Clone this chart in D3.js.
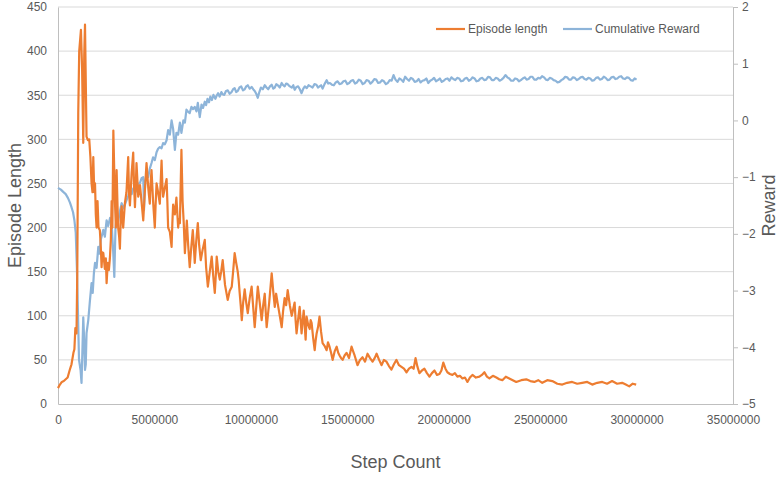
<!DOCTYPE html>
<html>
<head>
<meta charset="utf-8">
<script src="https://cdn.jsdelivr.net/npm/d3@7"></script>
<style>
  body { margin: 0; background: #fff; }
  text { font-family: "Liberation Sans", Arial, sans-serif; }
</style>
</head>
<body>
<div class="chart"></div>
<script>
// step count in millions, value
const episodeLength = [
  [0.00,18],[0.10,22],[0.20,25],[0.30,26],[0.40,28],[0.50,30],[0.60,38],[0.70,45],[0.80,58],[0.85,62],
  [0.90,86],[0.96,80],[1.00,150],[1.05,330],[1.10,400],[1.19,424],[1.25,380],[1.31,296],[1.36,395],[1.40,430],
  [1.48,303],[1.55,299],[1.62,300],[1.68,280],[1.74,250],[1.79,240],[1.83,280],[1.88,240],[1.92,250],[1.96,215],
  [2.00,200],[2.05,230],[2.10,200],[2.17,197],[2.22,178],[2.26,155],[2.30,172],[2.35,171],[2.40,160],[2.43,153],
  [2.48,165],[2.52,137],[2.58,160],[2.64,152],[2.69,165],[2.74,186],[2.78,230],[2.82,200],[2.87,310],[2.95,231],
  [3.00,200],[3.04,265],[3.08,230],[3.12,200],[3.17,190],[3.21,176],[3.26,215],[3.30,224],[3.38,200],[3.47,228],
  [3.55,240],[3.64,280],[3.68,240],[3.73,225],[3.82,262],[3.90,285],[3.94,250],[3.99,223],[4.03,245],[4.07,273],
  [4.16,235],[4.25,248],[4.33,230],[4.42,208],[4.50,240],[4.59,273],[4.68,245],[4.76,227],[4.80,250],[4.85,265],
  [4.93,230],[5.02,200],[5.06,225],[5.11,250],[5.19,240],[5.28,227],[5.32,250],[5.37,276],[5.41,250],[5.45,235],
  [5.54,245],[5.63,255],[5.67,230],[5.71,200],[5.80,195],[5.89,178],[5.93,205],[5.97,226],[6.06,215],[6.14,234],
  [6.19,215],[6.23,200],[6.28,210],[6.32,205],[6.40,288],[6.46,230],[6.52,205],[6.58,171],[6.63,190],[6.68,208],
  [6.75,180],[6.83,155],[6.90,175],[6.99,197],[7.04,180],[7.09,160],[7.17,185],[7.25,205],[7.32,180],[7.40,163],
  [7.50,175],[7.61,186],[7.68,155],[7.77,133],[7.87,150],[7.97,167],[8.05,145],[8.13,126],[8.18,145],[8.23,167],
  [8.31,150],[8.39,141],[8.46,150],[8.54,163],[8.66,135],[8.80,118],[8.90,128],[9.01,133],[9.08,150],[9.16,171],
  [9.24,160],[9.32,150],[9.37,140],[9.42,126],[9.48,110],[9.53,95],[9.60,115],[9.68,130],[9.76,115],[9.84,103],
  [9.94,120],[10.04,133],[10.12,110],[10.20,87],[10.28,110],[10.36,133],[10.46,115],[10.56,95],[10.64,112],[10.72,125],
  [10.77,105],[10.82,87],[10.95,115],[11.08,148],[11.16,128],[11.24,110],[11.31,125],[11.39,114],[11.50,100],[11.60,87],
  [11.67,105],[11.75,120],[11.83,112],[11.91,129],[12.02,112],[12.12,100],[12.20,108],[12.27,115],[12.32,95],[12.37,80],
  [12.45,96],[12.53,110],[12.58,95],[12.63,80],[12.69,95],[12.74,106],[12.79,90],[12.84,73],[12.89,99],[12.97,90],
  [13.05,85],[13.10,95],[13.15,92],[13.23,75],[13.31,61],[13.36,72],[13.41,80],[13.49,88],[13.56,99],[13.64,82],
  [13.72,69],[13.82,66],[13.93,61],[14.00,70],[14.08,65],[14.16,58],[14.24,50],[14.35,60],[14.45,65],[14.53,58],
  [14.60,55],[14.68,52],[14.76,50],[14.86,55],[14.96,58],[15.09,52],[15.22,65],[15.30,60],[15.38,55],[15.45,50],
  [15.53,44],[15.66,50],[15.79,53],[15.92,48],[16.05,57],[16.18,52],[16.31,48],[16.42,52],[16.52,57],[16.65,50],
  [16.78,44],[16.90,50],[17.03,48],[17.16,43],[17.29,39],[17.42,45],[17.55,50],[17.68,44],[17.81,42],[17.94,40],
  [18.07,36],[18.20,40],[18.33,42],[18.44,40],[18.54,52],[18.64,42],[18.74,35],[18.87,38],[19.00,40],[19.13,35],
  [19.26,31],[19.39,35],[19.52,38],[19.65,33],[19.78,34],[19.88,38],[19.98,47],[20.09,40],[20.19,36],[20.32,34],
  [20.45,33],[20.58,35],[20.71,31],[20.84,32],[20.97,29],[21.10,30],[21.23,25],[21.36,30],[21.49,33],[21.67,30],
  [21.85,31],[21.98,33],[22.11,36],[22.24,31],[22.37,29],[22.55,32],[22.73,30],[22.88,28],[23.04,27],[23.22,31],
  [23.40,29],[23.58,27],[23.76,25],[24.02,27],[24.28,28],[24.49,26],[24.70,25],[24.90,27],[25.11,24],[25.37,27],
  [25.63,26],[25.89,23],[26.15,22],[26.40,24],[26.66,25],[26.92,23],[27.18,24],[27.44,25],[27.70,22],[27.96,24],
  [28.22,25],[28.47,23],[28.73,26],[28.99,23],[29.25,24],[29.44,22],[29.62,20],[29.80,23],[29.98,22]
];

const cumulativeReward = [
  [0.00,-1.19],[0.15,-1.22],[0.27,-1.26],[0.40,-1.30],[0.52,-1.37],[0.62,-1.45],[0.70,-1.53],[0.78,-1.62],[0.85,-1.76],[0.92,-1.98],
  [0.98,-2.60],[1.02,-3.17],[1.09,-4.22],[1.17,-4.40],[1.22,-4.63],[1.27,-4.00],[1.31,-3.47],[1.36,-3.90],[1.40,-4.40],[1.44,-4.30],
  [1.48,-3.75],[1.57,-3.52],[1.65,-3.20],[1.74,-2.87],[1.80,-3.04],[1.86,-2.70],[1.92,-2.51],[2.00,-2.60],[2.09,-2.23],[2.15,-2.35],
  [2.22,-2.10],[2.35,-1.93],[2.43,-2.05],[2.52,-1.76],[2.60,-1.86],[2.70,-1.72],[2.78,-1.81],[2.86,-2.30],[2.92,-2.76],[2.98,-1.90],
  [3.04,-1.70],[3.12,-1.78],[3.21,-1.60],[3.30,-1.46],[3.40,-1.55],[3.56,-1.40],[3.64,-1.33],[3.73,-1.23],[3.82,-1.30],[3.90,-1.20],
  [3.99,-1.17],[4.07,-1.25],[4.16,-1.12],[4.25,-1.10],[4.33,-1.02],[4.42,-1.00],[4.46,-1.58],[4.52,-1.10],[4.59,-0.95],[4.68,-1.00],
  [4.76,-0.85],[4.85,-0.75],[4.93,-0.65],[5.02,-0.70],[5.11,-0.56],[5.19,-0.50],[5.28,-0.47],[5.37,-0.49],[5.45,-0.40],[5.54,-0.42],
  [5.63,-0.35],[5.71,-0.17],[5.80,-0.25],[5.89,0.00],[5.97,-0.15],[6.06,-0.52],[6.14,-0.22],[6.23,-0.25],[6.32,-0.04],[6.40,-0.22],
  [6.50,0.00],[6.58,-0.04],[6.66,0.19],[6.75,0.15],[6.83,0.13],[6.92,0.24],[7.00,0.20],[7.09,0.24],[7.18,0.16],[7.25,0.31],
  [7.35,0.06],[7.44,0.28],[7.52,0.22],[7.61,0.33],[7.68,0.27],[7.75,0.38],[7.83,0.32],[7.90,0.42],[7.98,0.36],[8.06,0.45],
  [8.16,0.38],[8.23,0.44],[8.30,0.48],[8.38,0.42],[8.47,0.50],[8.54,0.46],[8.62,0.45],[8.71,0.52],[8.80,0.53],[8.90,0.47],
  [9.00,0.50],[9.08,0.55],[9.16,0.57],[9.24,0.50],[9.32,0.52],[9.41,0.58],[9.50,0.60],[9.59,0.53],[9.68,0.55],[9.76,0.60],
  [9.84,0.62],[9.94,0.56],[10.04,0.59],[10.12,0.55],[10.20,0.52],[10.28,0.47],[10.36,0.40],[10.44,0.50],[10.52,0.58],[10.62,0.55],
  [10.72,0.62],[10.81,0.58],[10.90,0.55],[10.99,0.60],[11.08,0.63],[11.16,0.56],[11.24,0.58],[11.32,0.64],[11.40,0.62],[11.50,0.58],
  [11.60,0.66],[11.68,0.62],[11.75,0.60],[11.83,0.65],[11.91,0.64],[12.02,0.60],[12.12,0.58],[12.20,0.62],[12.27,0.54],[12.36,0.59],
  [12.45,0.60],[12.54,0.55],[12.63,0.48],[12.72,0.56],[12.80,0.60],[12.90,0.57],[12.99,0.62],[13.10,0.60],[13.20,0.58],[13.30,0.64],
  [13.40,0.63],[13.48,0.58],[13.56,0.60],[13.64,0.62],[13.72,0.56],[13.82,0.64],[13.93,0.71],[14.01,0.65],[14.10,0.66],[14.20,0.63],
  [14.30,0.62],[14.40,0.67],[14.50,0.69],[14.60,0.64],[14.70,0.65],[14.80,0.69],[14.90,0.70],[15.00,0.64],[15.10,0.66],[15.20,0.70],
  [15.30,0.71],[15.40,0.65],[15.50,0.67],[15.60,0.72],[15.70,0.70],[15.80,0.64],[15.90,0.66],[16.00,0.71],[16.10,0.70],[16.20,0.65],
  [16.30,0.68],[16.40,0.73],[16.50,0.72],[16.60,0.66],[16.70,0.67],[16.80,0.71],[16.90,0.69],[17.00,0.64],[17.10,0.66],[17.20,0.71],
  [17.30,0.70],[17.40,0.80],[17.50,0.72],[17.60,0.68],[17.70,0.74],[17.80,0.72],[17.90,0.68],[18.00,0.77],[18.10,0.73],[18.20,0.70],
  [18.30,0.75],[18.40,0.73],[18.50,0.68],[18.60,0.69],[18.70,0.73],[18.80,0.67],[18.90,0.70],[19.00,0.71],[19.10,0.74],[19.20,0.66],
  [19.30,0.70],[19.40,0.72],[19.50,0.75],[19.60,0.69],[19.70,0.71],[19.80,0.74],[19.90,0.68],[20.00,0.70],[20.10,0.73],[20.20,0.74],
  [20.30,0.70],[20.40,0.76],[20.50,0.73],[20.60,0.71],[20.70,0.75],[20.80,0.74],[20.90,0.69],[21.00,0.70],[21.10,0.74],[21.20,0.75],
  [21.30,0.70],[21.40,0.72],[21.50,0.76],[21.60,0.74],[21.70,0.69],[21.80,0.70],[21.90,0.74],[22.00,0.75],[22.10,0.71],[22.20,0.72],
  [22.30,0.77],[22.40,0.76],[22.50,0.71],[22.60,0.71],[22.70,0.75],[22.80,0.74],[22.90,0.70],[23.00,0.72],[23.10,0.75],[23.20,0.80],
  [23.30,0.76],[23.40,0.74],[23.50,0.70],[23.60,0.70],[23.70,0.74],[23.80,0.73],[23.90,0.69],[24.00,0.71],[24.10,0.74],[24.20,0.76],
  [24.30,0.72],[24.40,0.73],[24.50,0.77],[24.60,0.77],[24.70,0.72],[24.80,0.72],[24.90,0.75],[25.00,0.74],[25.10,0.78],[25.20,0.76],
  [25.30,0.72],[25.40,0.71],[25.50,0.75],[25.60,0.74],[25.70,0.71],[25.80,0.70],[25.90,0.67],[26.00,0.68],[26.10,0.71],[26.20,0.73],
  [26.30,0.77],[26.40,0.76],[26.50,0.72],[26.60,0.72],[26.70,0.76],[26.80,0.75],[26.90,0.71],[27.00,0.73],[27.10,0.76],[27.20,0.77],
  [27.30,0.73],[27.40,0.72],[27.50,0.75],[27.60,0.74],[27.70,0.70],[27.80,0.71],[27.90,0.75],[28.00,0.76],[28.10,0.72],[28.20,0.73],
  [28.30,0.77],[28.40,0.75],[28.50,0.71],[28.60,0.72],[28.70,0.76],[28.80,0.77],[28.90,0.73],[29.00,0.74],[29.10,0.77],[29.20,0.78],
  [29.30,0.74],[29.40,0.73],[29.50,0.76],[29.60,0.75],[29.70,0.71],[29.80,0.70],[29.90,0.74],[30.00,0.72]
];

const xTicks = [0, 5000000, 10000000, 15000000, 20000000, 25000000, 30000000, 35000000];
const yLeftTicks = [0, 50, 100, 150, 200, 250, 300, 350, 400, 450];
const yRightTicks = [-5, -4, -3, -2, -1, 0, 1, 2];
const seriesNames = ['Episode length', 'Cumulative Reward'];
const seriesColors = ['#ed7d31', '#8db4d9'];

const width = 782;
const height = 477;
const margin = {top: 7, right: 49, bottom: 73, left: 58};

const svg = d3.select('.chart').append('svg')
  .attr('width', width)
  .attr('height', height);

const x = d3.scaleLinear().domain([0, 35000000]).range([margin.left, width - margin.right]);
const yL = d3.scaleLinear().domain([0, 450]).range([height - margin.bottom, margin.top]);
const yR = d3.scaleLinear().domain([-5, 2]).range([height - margin.bottom, margin.top]);

// gridlines
svg.append('g')
  .selectAll('line')
  .data(yLeftTicks.filter(d=>d>0))
  .enter()
  .append('line')
  .attr('x1', margin.left)
  .attr('x2', width - margin.right)
  .attr('y1', d=>yL(d))
  .attr('y2', d=>yL(d))
  .attr('stroke', '#d9d9d9')
  .attr('stroke-width', 1);

// x axis
const xAxis = svg.append('g')
  .attr('transform', `translate(0,${height - margin.bottom})`)
  .call(d3.axisBottom(x).tickValues(xTicks).tickFormat(d3.format('d')).tickSize(0).tickPadding(11));
xAxis.select('.domain').attr('stroke', '#bfbfbf');

// left axis
const yAxisL = svg.append('g')
  .attr('transform', `translate(${margin.left},0)`)
  .call(d3.axisLeft(yL).tickValues(yLeftTicks).tickSize(0).tickPadding(11));
yAxisL.select('.domain').attr('stroke', '#bfbfbf');

// right axis
const yAxisR = svg.append('g')
  .attr('transform', `translate(${width - margin.right},0)`)
  .call(d3.axisRight(yR).tickValues(yRightTicks).tickFormat(d3.format('d')).tickSizeOuter(0).tickSizeInner(5).tickPadding(4));
yAxisR.select('.domain').attr('stroke', '#bfbfbf');
yAxisR.selectAll('.tick line').attr('stroke', '#bfbfbf');

svg.selectAll('.tick text')
  .attr('fill', '#595959')
  .attr('font-size', 12);

// lines
const lineL = d3.line().x(d=>x(d[0]*1e6)).y(d=>yL(d[1]));
const lineR = d3.line().x(d=>x(d[0]*1e6)).y(d=>yR(d[1]));

svg.append('path')
  .datum(cumulativeReward)
  .attr('fill', 'none')
  .attr('stroke', seriesColors[1])
  .attr('stroke-width', 2.2)
  .attr('stroke-linejoin', 'round')
  .attr('d', lineR);

svg.append('path')
  .datum(episodeLength)
  .attr('fill', 'none')
  .attr('stroke', seriesColors[0])
  .attr('stroke-width', 2.2)
  .attr('stroke-linejoin', 'round')
  .attr('d', lineL);

// axis titles
svg.append('text')
  .attr('transform', `translate(21,${(margin.top + height - margin.bottom)/2}) rotate(-90)`)
  .attr('text-anchor', 'middle')
  .attr('font-size', 18)
  .attr('fill', '#595959')
  .text('Episode Length');

svg.append('text')
  .attr('transform', `translate(775,${(margin.top + height - margin.bottom)/2}) rotate(-90)`)
  .attr('text-anchor', 'middle')
  .attr('font-size', 18)
  .attr('fill', '#595959')
  .text('Reward');

svg.append('text')
  .attr('x', (margin.left + width - margin.right)/2)
  .attr('y', 468)
  .attr('text-anchor', 'middle')
  .attr('font-size', 18)
  .attr('fill', '#595959')
  .text('Step Count');

// legend
const legendX = [436, 563];
const legend = svg.append('g');
legend.selectAll('line')
  .data(seriesNames)
  .enter()
  .append('line')
  .attr('x1', (d,i)=>legendX[i])
  .attr('x2', (d,i)=>legendX[i] + 29)
  .attr('y1', 29)
  .attr('y2', 29)
  .attr('stroke', (d,i)=>seriesColors[i])
  .attr('stroke-width', 2.2);
legend.selectAll('text')
  .data(seriesNames)
  .enter()
  .append('text')
  .attr('x', (d,i)=>legendX[i] + 32)
  .attr('y', 29)
  .attr('dy', '0.35em')
  .attr('font-size', 12)
  .attr('fill', '#595959')
  .text(d=>d);
</script>
</body>
</html>
